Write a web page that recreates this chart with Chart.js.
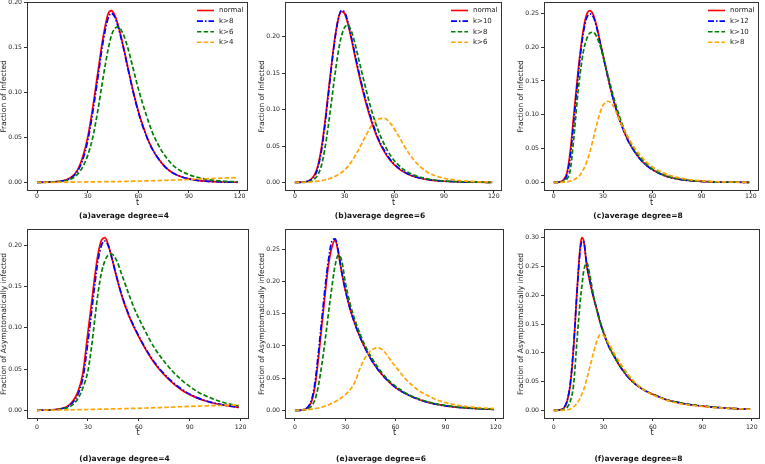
<!DOCTYPE html>
<html>
<head>
<meta charset="utf-8">
<title>Fraction of infected by average degree</title>
<script src="https://cdn.jsdelivr.net/npm/chart.js"></script>
<style>
    body { margin: 0; padding: 0; background: #fff; }
    #page { position: relative; width: 765px; height: 464px; overflow: hidden; background: #fff; }
    canvas { position: absolute; }
</style>
</head>
<body>
<div id="page">
    <canvas id="cA" width="250" height="225" style="left:0px;top:0px"></canvas>
    <canvas id="cB" width="246" height="225" style="left:258px;top:0px"></canvas>
    <canvas id="cC" width="244" height="225" style="left:517px;top:0px"></canvas>
    <canvas id="cD" width="251" height="239" style="left:0px;top:225px"></canvas>
    <canvas id="cE" width="248" height="239" style="left:258px;top:225px"></canvas>
    <canvas id="cF" width="245" height="239" style="left:517px;top:225px"></canvas>
</div>

<script>
    // x ticks shared by all panels
    var xTicks = [0, 30, 60, 90, 120];

    // (a) infected, average degree 4
    var tA      = [0, 5, 10, 15, 18, 21, 24, 27, 30, 33, 36, 39, 42, 44, 46, 48, 51, 54, 57, 60, 64, 68, 72, 76, 80, 85, 90, 95, 100, 105, 110, 115, 119];
    var normalA = [0, 0.0002, 0.0006, 0.0018, 0.0035, 0.007, 0.014, 0.028, 0.05, 0.083, 0.122, 0.16, 0.187, 0.191, 0.186, 0.175, 0.152, 0.126, 0.101, 0.079, 0.056, 0.038, 0.026, 0.017, 0.011, 0.0065, 0.0038, 0.0022, 0.0013, 0.0008, 0.0004, 0.0002, 0.0001];
    var k8A     = [0, 0.0002, 0.0005, 0.0016, 0.003, 0.0062, 0.0125, 0.025, 0.046, 0.078, 0.116, 0.155, 0.182, 0.188, 0.184, 0.173, 0.151, 0.125, 0.1, 0.078, 0.055, 0.038, 0.026, 0.017, 0.011, 0.0066, 0.0038, 0.0022, 0.0013, 0.0008, 0.0004, 0.0002, 0.0001];
    var k6A     = [0, 0.0001, 0.0004, 0.0012, 0.0023, 0.0045, 0.009, 0.017, 0.03, 0.05, 0.08, 0.115, 0.147, 0.163, 0.171, 0.173, 0.165, 0.148, 0.126, 0.104, 0.079, 0.057, 0.041, 0.029, 0.02, 0.013, 0.0085, 0.0055, 0.0035, 0.0022, 0.0014, 0.0009, 0.0006];
    var k4A     = [0, 0.0001, 0.0001, 0.0002, 0.0003, 0.0003, 0.0004, 0.0004, 0.0005, 0.0005, 0.0006, 0.0007, 0.0008, 0.0008, 0.0009, 0.0009, 0.001, 0.0011, 0.0013, 0.0014, 0.0016, 0.0018, 0.002, 0.0022, 0.0025, 0.0028, 0.0032, 0.0036, 0.004, 0.0044, 0.0048, 0.0051, 0.0054];
    var namesA  = ['normal', 'k>8', 'k>6', 'k>4'];
    var yTicksA = [0, 0.05, 0.10, 0.15, 0.20];

    // (b) infected, average degree 6
    var tB       = [0, 4, 8, 10, 12, 14, 16, 18, 20, 22, 24, 26, 28, 30, 32, 34, 36, 38, 40, 43, 46, 50, 54, 58, 62, 66, 70, 75, 80, 85, 90, 100, 110, 119];
    var normalB  = [0, 0.0003, 0.002, 0.005, 0.011, 0.024, 0.047, 0.08, 0.12, 0.16, 0.196, 0.223, 0.235, 0.232, 0.218, 0.198, 0.176, 0.155, 0.135, 0.108, 0.085, 0.06, 0.042, 0.029, 0.02, 0.014, 0.0095, 0.006, 0.0038, 0.0025, 0.0016, 0.0007, 0.0003, 0.0001];
    var k10B     = [0, 0.0002, 0.0015, 0.004, 0.009, 0.021, 0.043, 0.076, 0.116, 0.157, 0.194, 0.222, 0.236, 0.234, 0.22, 0.2, 0.179, 0.158, 0.138, 0.111, 0.088, 0.062, 0.044, 0.03, 0.021, 0.0145, 0.01, 0.0063, 0.004, 0.0026, 0.0017, 0.0007, 0.0003, 0.0001];
    var k8B      = [0, 0.0001, 0.0008, 0.002, 0.005, 0.011, 0.023, 0.045, 0.075, 0.11, 0.145, 0.177, 0.2, 0.213, 0.216, 0.208, 0.193, 0.174, 0.155, 0.127, 0.101, 0.073, 0.052, 0.036, 0.025, 0.017, 0.0118, 0.0075, 0.0048, 0.003, 0.002, 0.0008, 0.0003, 0.0001];
    var k6B      = [0, 0.0002, 0.0005, 0.0008, 0.0012, 0.0017, 0.0024, 0.0033, 0.0045, 0.006, 0.008, 0.0105, 0.0135, 0.017, 0.022, 0.028, 0.035, 0.043, 0.052, 0.065, 0.077, 0.087, 0.088, 0.08, 0.066, 0.05, 0.036, 0.023, 0.014, 0.0088, 0.0057, 0.0024, 0.001, 0.0005];
    var namesB   = ['normal', 'k>10', 'k>8', 'k>6'];
    var yTicksB  = [0, 0.05, 0.10, 0.15, 0.20];

    // (c) infected, average degree 8
    var tC       = [0, 3, 6, 8, 10, 12, 14, 16, 18, 20, 22, 24, 26, 28, 30, 33, 36, 39, 42, 45, 48, 52, 56, 60, 65, 70, 75, 80, 90, 100, 110, 119];
    var normalC  = [0, 0.0005, 0.004, 0.014, 0.045, 0.095, 0.145, 0.19, 0.226, 0.248, 0.254, 0.248, 0.232, 0.21, 0.188, 0.155, 0.125, 0.1, 0.08, 0.063, 0.05, 0.036, 0.026, 0.019, 0.0125, 0.008, 0.0052, 0.0034, 0.0015, 0.0006, 0.0003, 0.0001];
    var k12C     = [0, 0.0003, 0.003, 0.011, 0.037, 0.085, 0.137, 0.184, 0.221, 0.243, 0.249, 0.245, 0.23, 0.209, 0.187, 0.155, 0.125, 0.1, 0.08, 0.063, 0.05, 0.036, 0.026, 0.019, 0.0125, 0.008, 0.0052, 0.0034, 0.0015, 0.0006, 0.0003, 0.0001];
    var k10C     = [0, 0.0002, 0.0015, 0.005, 0.018, 0.06, 0.115, 0.16, 0.193, 0.212, 0.221, 0.222, 0.216, 0.204, 0.187, 0.158, 0.13, 0.105, 0.084, 0.067, 0.053, 0.039, 0.028, 0.02, 0.013, 0.0085, 0.0055, 0.0036, 0.0016, 0.0007, 0.0003, 0.0001];
    var k8C      = [0, 0, 0.0003, 0.0008, 0.0018, 0.0035, 0.0065, 0.011, 0.019, 0.03, 0.045, 0.064, 0.084, 0.102, 0.114, 0.12, 0.114, 0.098, 0.082, 0.068, 0.055, 0.042, 0.031, 0.023, 0.016, 0.011, 0.0075, 0.005, 0.0023, 0.001, 0.0005, 0.0002];
    var namesC   = ['normal', 'k>12', 'k>10', 'k>8'];
    var yTicksC  = [0, 0.05, 0.10, 0.15, 0.20, 0.25];

    // (d) asymptomatically infected, average degree 4
    var tD       = [0, 5, 10, 15, 18, 21, 24, 27, 30, 32, 34, 36, 38, 40, 42, 44, 47, 50, 54, 58, 62, 66, 70, 75, 80, 85, 90, 95, 100, 105, 110, 115, 119];
    var normalD  = [0, 0.0003, 0.0008, 0.0025, 0.005, 0.011, 0.022, 0.045, 0.095, 0.128, 0.162, 0.19, 0.206, 0.209, 0.2, 0.185, 0.16, 0.138, 0.115, 0.097, 0.081, 0.067, 0.055, 0.043, 0.033, 0.025, 0.019, 0.0145, 0.011, 0.0083, 0.0063, 0.0047, 0.0036];
    var k8D      = [0, 0.0003, 0.0007, 0.0022, 0.0045, 0.0095, 0.019, 0.039, 0.083, 0.117, 0.152, 0.182, 0.2, 0.205, 0.199, 0.185, 0.161, 0.139, 0.116, 0.098, 0.082, 0.068, 0.056, 0.044, 0.034, 0.026, 0.0195, 0.0148, 0.0112, 0.0085, 0.0064, 0.0048, 0.0037];
    var k6D      = [0, 0.0002, 0.0006, 0.0017, 0.0033, 0.0068, 0.014, 0.027, 0.048, 0.075, 0.11, 0.143, 0.167, 0.181, 0.188, 0.189, 0.181, 0.164, 0.141, 0.12, 0.103, 0.087, 0.073, 0.059, 0.047, 0.037, 0.029, 0.022, 0.017, 0.0128, 0.0095, 0.007, 0.0053];
    var k4D      = [0, 0.0002, 0.0003, 0.0005, 0.0006, 0.0007, 0.0008, 0.0009, 0.001, 0.0011, 0.0012, 0.0013, 0.0014, 0.0015, 0.0016, 0.0017, 0.0018, 0.002, 0.0022, 0.0024, 0.0026, 0.0029, 0.0032, 0.0035, 0.0039, 0.0043, 0.0047, 0.0051, 0.0055, 0.0058, 0.006, 0.0062, 0.0063];
    var namesD   = ['normal', 'k>8', 'k>6', 'k>4'];
    var yTicksD  = [0, 0.05, 0.10, 0.15, 0.20];

    // (e) asymptomatically infected, average degree 6
    var tE       = [0, 4, 8, 10, 12, 14, 16, 18, 20, 22, 24, 26, 28, 30, 33, 36, 39, 42, 46, 50, 54, 58, 62, 66, 70, 75, 80, 85, 90, 100, 110, 119];
    var normalE  = [0, 0.0005, 0.005, 0.014, 0.038, 0.08, 0.13, 0.18, 0.225, 0.252, 0.264, 0.243, 0.213, 0.188, 0.157, 0.133, 0.113, 0.096, 0.077, 0.062, 0.05, 0.04, 0.032, 0.026, 0.021, 0.016, 0.012, 0.0092, 0.007, 0.0042, 0.0025, 0.0015];
    var k10E     = [0, 0.0006, 0.006, 0.017, 0.044, 0.089, 0.14, 0.19, 0.233, 0.262, 0.266, 0.246, 0.214, 0.188, 0.157, 0.133, 0.113, 0.096, 0.077, 0.062, 0.05, 0.04, 0.032, 0.026, 0.021, 0.016, 0.012, 0.0092, 0.007, 0.0042, 0.0025, 0.0015];
    var k8E      = [0, 0.0003, 0.0025, 0.007, 0.017, 0.038, 0.07, 0.108, 0.15, 0.19, 0.225, 0.241, 0.232, 0.2, 0.165, 0.139, 0.118, 0.1, 0.081, 0.065, 0.052, 0.042, 0.034, 0.027, 0.022, 0.017, 0.013, 0.0098, 0.0075, 0.0045, 0.0027, 0.0016];
    var k6E      = [0, 0.0005, 0.0012, 0.0018, 0.0026, 0.0036, 0.005, 0.0066, 0.0085, 0.011, 0.0135, 0.0165, 0.02, 0.024, 0.032, 0.045, 0.066, 0.082, 0.094, 0.097, 0.089, 0.075, 0.062, 0.049, 0.039, 0.029, 0.022, 0.016, 0.012, 0.0068, 0.0042, 0.0028];
    var namesE   = ['normal', 'k>10', 'k>8', 'k>6'];
    var yTicksE  = [0, 0.05, 0.10, 0.15, 0.20, 0.25];

    // (f) asymptomatically infected, average degree 8
    var tF       = [0, 3, 6, 8, 10, 12, 14, 16, 17, 18, 20, 22, 24, 26, 28, 30, 33, 36, 40, 44, 48, 52, 56, 60, 65, 70, 75, 80, 90, 100, 110, 119];
    var normalF  = [0, 0.0005, 0.004, 0.015, 0.045, 0.11, 0.205, 0.285, 0.3, 0.296, 0.25, 0.222, 0.196, 0.175, 0.153, 0.136, 0.113, 0.097, 0.077, 0.061, 0.049, 0.04, 0.033, 0.028, 0.022, 0.017, 0.014, 0.011, 0.0075, 0.0048, 0.003, 0.002];
    var k12F     = [0, 0.0006, 0.0045, 0.016, 0.047, 0.112, 0.203, 0.278, 0.293, 0.294, 0.253, 0.223, 0.198, 0.176, 0.154, 0.136, 0.113, 0.097, 0.077, 0.061, 0.049, 0.04, 0.033, 0.028, 0.022, 0.017, 0.014, 0.011, 0.0075, 0.0048, 0.003, 0.002];
    var k10F     = [0, 0.0002, 0.0015, 0.005, 0.016, 0.045, 0.12, 0.19, 0.215, 0.24, 0.256, 0.232, 0.2, 0.176, 0.155, 0.137, 0.114, 0.097, 0.078, 0.063, 0.05, 0.041, 0.033, 0.028, 0.022, 0.017, 0.014, 0.011, 0.0075, 0.0048, 0.003, 0.002];
    var k8F      = [0, 0, 0.0003, 0.001, 0.0025, 0.006, 0.012, 0.022, 0.028, 0.035, 0.055, 0.077, 0.1, 0.12, 0.131, 0.13, 0.118, 0.102, 0.083, 0.066, 0.052, 0.041, 0.033, 0.027, 0.021, 0.016, 0.0125, 0.01, 0.0068, 0.0045, 0.0029, 0.0019];
    var namesF   = ['normal', 'k>12', 'k>10', 'k>8'];
    var yTicksF  = [0, 0.05, 0.10, 0.15, 0.20, 0.25, 0.30];

    var yTitleTop = 'Fraction of Infected';
    var yTitleBottom = 'Fraction of Asymptomatically infected';

    // same styles in every panel: normal, then the three k> curves
    var lineColors = ['#ff0000', '#0000ff', '#008000', '#ffa500'];
    var lineDashes = [[], [6, 2, 1.5, 2], [4.5, 2.2], [4.5, 2.2]];

    Chart.defaults.font.family = '"DejaVu Sans", sans-serif';
    Chart.defaults.color = '#222';
    Chart.defaults.animation = false;

    // box round the plot, like matplotlib spines
    var framePlugin = {
        id: 'frame',
        afterDraw: function(chart) {
            var a = chart.chartArea, ctx = chart.ctx;
            ctx.save();
            ctx.strokeStyle = '#333';
            ctx.lineWidth = 1;
            ctx.strokeRect(Math.round(a.left) + 0.5, Math.round(a.top) + 0.5, Math.round(a.width) - 1, Math.round(a.height) - 1);
            ctx.restore();
        }
    };

    // legend in the upper right corner, inside the plot
    var cornerLegend = {
        id: 'cornerLegend',
        afterDatasetsDraw: function(chart, args, opts) {
            if (!opts.show) return;
            var a = chart.chartArea, ctx = chart.ctx;
            ctx.save();
            ctx.font = '7px "DejaVu Sans"';
            ctx.textBaseline = 'middle';
            chart.data.datasets.forEach(function(ds, i) {
                var y = a.top + 8.5 + i * 10.6;
                ctx.strokeStyle = ds.borderColor;
                ctx.lineWidth = 1.6;
                ctx.setLineDash(ds.borderDash);
                ctx.beginPath();
                ctx.moveTo(a.right - 51, y);
                ctx.lineTo(a.right - 34, y);
                ctx.stroke();
                ctx.setLineDash([]);
                ctx.fillStyle = '#222';
                ctx.fillText(ds.label, a.right - 29, y);
            });
            ctx.restore();
        }
    };

    function makeChart(id, t, series, names, yMin, yMax, yTicks, yTitle, caption, bottomRow) {
        var datasets = series.map(function(vals, i) {
            return {
                label: names[i],
                data: t.map(function(x, j) { return { x: x, y: vals[j] }; }),
                borderColor: lineColors[i],
                borderDash: lineDashes[i],
                borderWidth: 1.7,
                pointRadius: 0,
                fill: false,
                cubicInterpolationMode: 'monotone',
                order: series.length - i
            };
        });

        return new Chart(document.getElementById(id), {
            type: 'line',
            data: { datasets: datasets },
            plugins: [framePlugin, cornerLegend],
            options: {
                responsive: false,
                events: [],
                layout: {
                    autoPadding: false,
                    padding: { top: bottomRow ? 4 : 2, right: 2, left: 0, bottom: bottomRow ? 0.5 : 4 }
                },
                plugins: {
                    legend: { display: false },
                    tooltip: { enabled: false },
                    cornerLegend: { show: !bottomRow },
                    title: {
                        display: true,
                        position: 'bottom',
                        text: caption,
                        color: '#111',
                        font: { size: 7.5, weight: 'bold' },
                        padding: { top: bottomRow ? 16.5 : 4, bottom: 0 }
                    }
                },
                scales: {
                    x: {
                        type: 'linear',
                        min: -5.95,
                        max: 124.95,
                        afterBuildTicks: function(ax) { ax.ticks = xTicks.map(function(v) { return { value: v }; }); },
                        afterFit: function(ax) { ax.height = bottomRow ? 19 : 17; ax.paddingLeft = 0; ax.paddingRight = 0; },
                        ticks: { font: { size: 6.2 }, padding: bottomRow ? 3 : 0, maxRotation: 0, color: '#222' },
                        grid: { display: true, drawOnChartArea: false, drawTicks: true, tickLength: 2, color: '#333' },
                        border: { display: false },
                        title: { display: true, text: 't', font: { size: 8 }, color: '#222', padding: 0 }
                    },
                    y: {
                        min: yMin,
                        max: yMax,
                        afterBuildTicks: function(ax) { ax.ticks = yTicks.map(function(v) { return { value: v }; }); },
                        afterFit: function(ax) { ax.width = 27; ax.paddingTop = 0; ax.paddingBottom = 0; },
                        ticks: {
                            font: { size: 6.2 },
                            padding: 2,
                            color: '#222',
                            callback: function(v) { return v.toFixed(2); }
                        },
                        grid: { display: true, drawOnChartArea: false, drawTicks: true, tickLength: 3, color: '#333' },
                        border: { display: false },
                        title: { display: true, text: yTitle, font: { size: 7.5 }, color: '#222', padding: 0 }
                    }
                }
            }
        });
    }

    makeChart('cA', tA, [normalA, k8A, k6A, k4A], namesA, -0.0096, 0.2006, yTicksA, yTitleTop, '(a)average degree=4', false);
    makeChart('cB', tB, [normalB, k10B, k8B, k6B], namesB, -0.0118, 0.2478, yTicksB, yTitleTop, '(b)average degree=6', false);
    makeChart('cC', tC, [normalC, k12C, k10C, k8C], namesC, -0.0127, 0.2667, yTicksC, yTitleTop, '(c)average degree=8', false);
    makeChart('cD', tD, [normalD, k8D, k6D, k4D], namesD, -0.0105, 0.2195, yTicksD, yTitleBottom, '(d)average degree=4', true);
    makeChart('cE', tE, [normalE, k10E, k8E, k6E], namesE, -0.0134, 0.2814, yTicksE, yTitleBottom, '(e)average degree=6', true);
    makeChart('cF', tF, [normalF, k12F, k10F, k8F], namesF, -0.015, 0.315, yTicksF, yTitleBottom, '(f)average degree=8', true);
</script>
</body>
</html>
